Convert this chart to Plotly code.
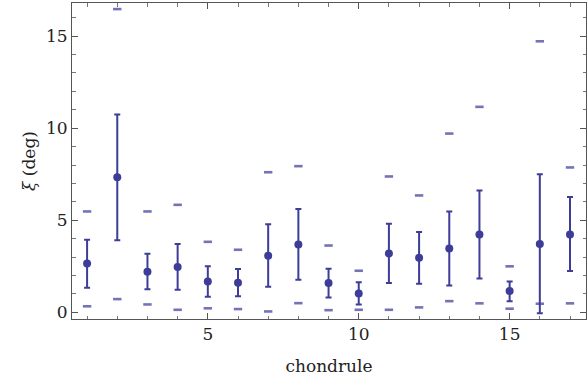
import plotly.graph_objects as go

chondrule = list(range(1, 18))
xi_mean = [2.66, 7.34, 2.20, 2.46, 1.68, 1.61, 3.07, 3.69, 1.59, 1.03, 3.20, 2.96, 3.47, 4.23, 1.16, 3.71, 4.23]
err_upper = [3.94, 10.74, 3.18, 3.71, 2.51, 2.35, 4.79, 5.62, 2.37, 1.63, 4.81, 4.36, 5.48, 6.62, 1.68, 7.50, 6.27]
err_lower = [1.34, 3.92, 1.25, 1.23, 0.85, 0.87, 1.39, 1.77, 0.81, 0.43, 1.59, 1.55, 1.46, 1.84, 0.61, -0.05, 2.24]
outer_upper = [5.48, 16.47, 5.48, 5.84, 3.83, 3.40, 7.61, 7.94, 3.63, 2.26, 7.38, 6.35, 9.71, 11.16, 2.50, 14.72, 7.87]
outer_lower = [0.33, 0.72, 0.43, 0.14, 0.22, 0.18, 0.05, 0.50, 0.12, 0.14, 0.14, 0.27, 0.61, 0.49, 0.20, 0.47, 0.49]

blue = "#3d3d99"
light = "rgba(61,61,153,0.72)"
serif = "DejaVu Serif"

fig = go.Figure()
fig.add_trace(go.Scatter(
    x=chondrule + chondrule, y=outer_upper + outer_lower, mode="markers",
    marker=dict(symbol="line-ew", size=6, line=dict(color=light, width=2.6)),
    showlegend=False, hoverinfo="skip"))
fig.add_trace(go.Scatter(
    x=chondrule, y=xi_mean, mode="markers",
    marker=dict(color=blue, size=8),
    error_y=dict(type="data", symmetric=False,
                 array=[u - m for u, m in zip(err_upper, xi_mean)],
                 arrayminus=[m - l for m, l in zip(xi_mean, err_lower)],
                 color=blue, thickness=2, width=3),
    showlegend=False))

axis_common = dict(
    showgrid=False, zeroline=False, showline=True, linecolor="#555555", linewidth=1,
    mirror="allticks", ticks="inside", ticklen=6, tickcolor="#555555", tickwidth=1,
    tickfont=dict(family=serif, size=17, color="#222222"),
    minor=dict(ticks="inside", ticklen=3.5, tickcolor="#777777", tickwidth=1, dtick=1, showgrid=False),
)

fig.update_layout(
    width=587, height=387,
    margin=dict(l=72, r=1, t=3, b=68),
    plot_bgcolor="white", paper_bgcolor="white",
    font=dict(family=serif),
    xaxis=dict(range=[0.5, 17.53], tickvals=[5, 10, 15], **axis_common,
               title=dict(text="chondrule", font=dict(family=serif, size=17, color="#222222"), standoff=16)),
    yaxis=dict(range=[-0.36, 16.8], tickvals=[0, 5, 10, 15], **axis_common,
               title=dict(text="<i>ξ</i> (deg)", font=dict(family=serif, size=17, color="#222222"), standoff=6)),
)

fig.write_html("out.html")
